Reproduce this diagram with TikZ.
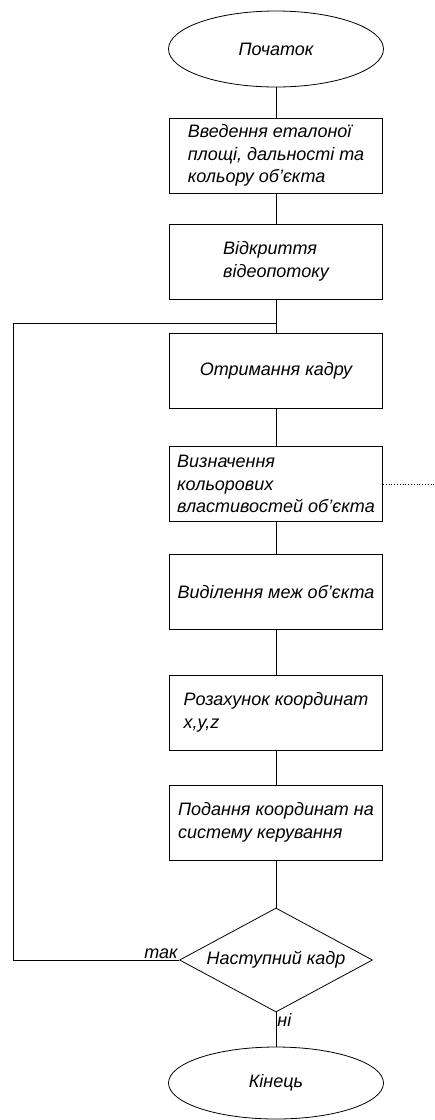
\documentclass[tikz,border=0pt]{standalone}
\usepackage{fontspec}
\setmainfont{Liberation Sans}
\usetikzlibrary{shapes.geometric}

\begin{document}
\begin{tikzpicture}[x=1pt,y=-1pt,line width=0.8pt,every node/.style={align=left,font=\itshape\fontsize{18}{22.5}\selectfont},box/.style={draw,rectangle,inner sep=4pt,minimum width=213pt,minimum height=75pt},term/.style={draw,ellipse,inner sep=0pt,minimum width=215pt,minimum height=76pt},ask/.style={draw,diamond,aspect=1.86,inner sep=0pt,minimum width=193pt,minimum height=104pt}]
\useasboundingbox (0,0) rectangle (435,1120);
\node[term] (start) at (276,49) {Початок};
\node[box] (intro) at (276,155.5) {Введення еталоної\\площі, дальності та\\кольору об’єкта};
\node[box] (open) at (276,261.5) {Відкриття\\відеопотоку};
\node[box] (frame) at (276,370.5) {Отримання кадру};
\node[box] (color) at (276,484) {Визначення\\кольорових\\властивостей об’єкта};
\node[box] (edge) at (276,591.5) {Виділення меж об’єкта};
\node[box] (calc) at (276,712.5) {Розахунок координат\\x,y,z};
\node[box] (send) at (276,822.5) {Подання координат на\\систему керування};
\node[ask] (next) at (276,960) {Наступний кадр};
\node[term,minimum height=72pt] (stop) at (276,1083) {Кінець};
\coordinate (join) at (276,323);
\coordinate (out) at (435,484);
\node[anchor=south east,inner sep=1pt] (yes) at (next.west) {так};
\node[anchor=north west,inner sep=1pt] (no) at (next.south) {ні};
\draw (start.south)--(intro.north);\draw (intro.south)--(open.north);
\draw (open.south)--(frame.north);\draw (frame.south)--(color.north);
\draw (color.south)--(edge.north);\draw (edge.south)--(calc.north);
\draw (calc.south)--(send.north);\draw (send.south)--(next.north);
\draw (next.south)--(stop.north);
\draw (next.west)--++(-165.5,0)|-(join);
\draw[dotted] (color.east)--(out);
\end{tikzpicture}
\end{document}
